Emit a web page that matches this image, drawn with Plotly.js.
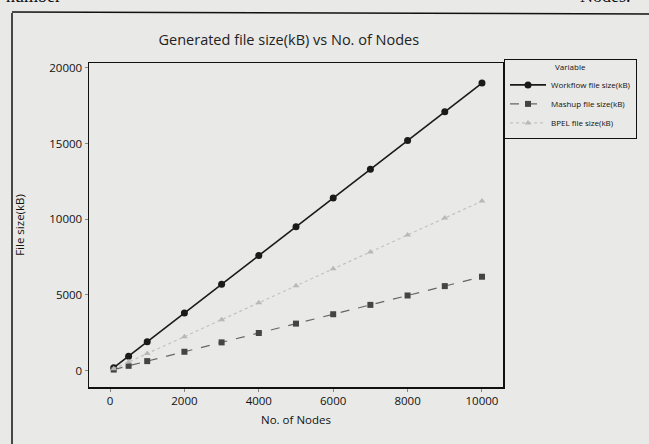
<!DOCTYPE html>
<html>
<head>
<meta charset="utf-8">
<script src="https://cdn.plot.ly/plotly-3.0.1.min.js"></script>
<style>html,body{margin:0;padding:0;background:#e9e9e7;}#chart{width:649px;height:444px;}</style>
</head>
<body>
<div id="chart"></div>
<script>
const nodes = [100, 500, 1000, 2000, 3000, 4000, 5000, 6000, 7000, 8000, 9000, 10000];
const workflowSize = [190, 950, 1900, 3800, 5700, 7600, 9500, 11400, 13300, 15200, 17100, 19000];
const mashupSize = [62, 310, 620, 1240, 1860, 2480, 3100, 3720, 4340, 4960, 5580, 6200];
const bpelSize = [112, 560, 1120, 2240, 3360, 4480, 5600, 6720, 7840, 8960, 10080, 11200];
const seriesNames = ["Workflow file size(kB)", "Mashup file size(kB)", "BPEL file size(kB)"];
const xTicks = [0, 2000, 4000, 6000, 8000, 10000];
const yTicks = [0, 5000, 10000, 15000, 20000];

const W = 649, H = 444, L = 89, R = 146, T = 63, B = 57;
const pw = W - L - R, ph = H - T - B;
const px = v => (v - L) / pw;
const py = v => (H - B - v) / ph;

const font = "Open Sans, Noto Sans, DejaVu Sans, sans-serif";

const traces = [
  {x: nodes, y: workflowSize, name: seriesNames[0], type: 'scatter', mode: 'lines+markers',
   line: {color: '#1a1a1a', width: 1.6}, marker: {symbol: 'circle', size: 7, color: '#1a1a1a'}},
  {x: nodes, y: mashupSize, name: seriesNames[1], type: 'scatter', mode: 'lines+markers',
   line: {color: '#666666', width: 1.2, dash: 'dash'}, marker: {symbol: 'square', size: 6, color: '#444444'}},
  {x: nodes, y: bpelSize, name: seriesNames[2], type: 'scatter', mode: 'lines+markers',
   line: {color: '#c2c2c2', width: 1.2, dash: 'dot'}, marker: {symbol: 'triangle-up', size: 6, color: '#b8b8b8'}}
];

const layout = {
  width: W, height: H,
  margin: {l: L, r: R, t: T, b: B},
  paper_bgcolor: '#e9e9e7',
  plot_bgcolor: '#e9e9e7',
  font: {family: font, color: '#111'},
  showlegend: true,
  title: {text: 'Generated file size(kB) vs No. of Nodes', font: {size: 14.5, color: '#222', family: font},
          x: 0.445, xanchor: 'center', y: 1 - 40 / H, yanchor: 'middle'},
  xaxis: {range: [-565, 10565], tickvals: xTicks, ticktext: xTicks.map(String),
          showgrid: false, zeroline: false, showline: true, mirror: true, linecolor: '#111', linewidth: 1.5,
          ticks: 'outside', ticklen: 3, tickcolor: '#888', tickfont: {size: 11.5, color: '#111'},
          title: {text: 'No. of Nodes', font: {size: 11.5, color: '#111'}, standoff: 8}},
  yaxis: {range: [-1090, 20330], tickvals: yTicks, ticktext: yTicks.map(String),
          showgrid: false, zeroline: false, showline: true, mirror: true, linecolor: '#111', linewidth: 1.5,
          ticks: 'outside', ticklen: 3, tickcolor: '#888', tickfont: {size: 11.5, color: '#111'},
          title: {text: 'File size(kB)', font: {size: 11.5, color: '#111'}, standoff: 22}},
  legend: {x: px(504), y: py(59), xanchor: 'left', yanchor: 'top',
           bgcolor: 'rgba(0,0,0,0)', bordercolor: '#111', borderwidth: 1,
           font: {size: 8, color: '#111'}, tracegroupgap: 0, itemwidth: 36,
           title: {text: 'Variable', side: 'top center', font: {size: 8, color: '#111'}}},
  shapes: [
    {type: 'line', xref: 'paper', yref: 'paper', x0: px(12), x1: px(12), y0: py(13), y1: py(444), line: {color: '#111', width: 1.5}},
    {type: 'line', xref: 'paper', yref: 'paper', x0: px(12), x1: px(649), y0: py(12), y1: py(14), line: {color: '#111', width: 1.5}}
  ],
  annotations: [
    {text: 'number', xref: 'paper', yref: 'paper', x: px(4), y: py(-4), xanchor: 'left', yanchor: 'middle',
     showarrow: false, font: {family: 'Liberation Serif, serif', size: 18, color: '#111'}},
    {text: 'Nodes.', xref: 'paper', yref: 'paper', x: px(578), y: py(-4), xanchor: 'left', yanchor: 'middle',
     showarrow: false, font: {family: 'Liberation Serif, serif', size: 18, color: '#111'}}
  ]
};

Plotly.newPlot('chart', traces, layout, {displayModeBar: false, staticPlot: true});
</script>
</body>
</html>
